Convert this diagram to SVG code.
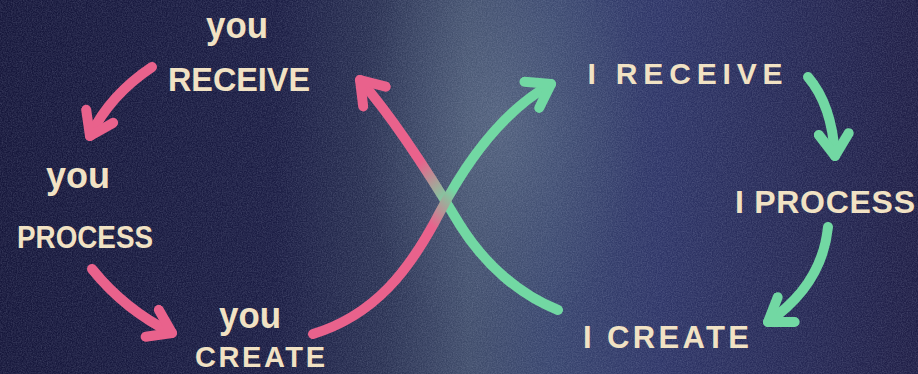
<svg xmlns="http://www.w3.org/2000/svg" width="918" height="374" viewBox="0 0 918 374">
  <defs>
    <linearGradient id="bg" x1="0" y1="0" x2="1" y2="0">
      <stop offset="0" stop-color="#16173b"/>
      <stop offset="0.3" stop-color="#1b1d44"/>
      <stop offset="0.42" stop-color="#2b3354"/>
      <stop offset="0.51" stop-color="#404d6b"/>
      <stop offset="0.6" stop-color="#38456e"/>
      <stop offset="0.72" stop-color="#2e3567"/>
      <stop offset="1" stop-color="#1f1e46"/>
    </linearGradient>
    <radialGradient id="glow" cx="500" cy="120" r="190" gradientUnits="userSpaceOnUse" gradientTransform="translate(500 120) scale(0.75 1.2) translate(-500 -120)">
      <stop offset="0" stop-color="#62728a" stop-opacity="0.6"/>
      <stop offset="0.6" stop-color="#55657f" stop-opacity="0.25"/>
      <stop offset="1" stop-color="#55657f" stop-opacity="0"/>
    </radialGradient>
    <filter id="chalk" x="0" y="0" width="100%" height="100%">
      <feTurbulence type="fractalNoise" baseFrequency="0.8" numOctaves="3" seed="4"/>
      <feColorMatrix type="matrix" values="0 0 0 0 0.7  0 0 0 0 0.76  0 0 0 0 0.95  0 0 0 0.7 -0.2"/>
    </filter>
    <linearGradient id="gA" gradientUnits="userSpaceOnUse" x1="313" y1="334" x2="553" y2="82">
      <stop offset="0" stop-color="#e9628c"/>
      <stop offset="0.46" stop-color="#e9628c"/>
      <stop offset="0.58" stop-color="#72d8a3"/>
      <stop offset="1" stop-color="#72d8a3"/>
    </linearGradient>
    <linearGradient id="gB" gradientUnits="userSpaceOnUse" x1="558" y1="310" x2="358" y2="78">
      <stop offset="0" stop-color="#72d8a3"/>
      <stop offset="0.5" stop-color="#72d8a3"/>
      <stop offset="0.66" stop-color="#e9628c"/>
      <stop offset="1" stop-color="#e9628c"/>
    </linearGradient>
    <marker id="hp" markerUnits="userSpaceOnUse" viewBox="-30 -20 36 40" markerWidth="36" markerHeight="40" refX="0" refY="0" orient="auto">
      <path d="M-22,-15 L0,0 L-22,15" fill="none" stroke="#e9628c" stroke-width="10" stroke-linecap="round" stroke-linejoin="round"/>
    </marker>
    <marker id="hg" markerUnits="userSpaceOnUse" viewBox="-30 -20 36 40" markerWidth="36" markerHeight="40" refX="0" refY="0" orient="auto">
      <path d="M-22,-15 L0,0 L-22,15" fill="none" stroke="#72d8a3" stroke-width="10" stroke-linecap="round" stroke-linejoin="round"/>
    </marker>
  </defs>
  <style>
    .lbl { font-family: "Liberation Sans", Arial, sans-serif; font-weight: bold; fill: #f1e2c4; text-anchor: middle; }
    .conn { fill: none; stroke-width: 10; stroke-linecap: round; }
    .pink { stroke: #e9628c; }
    .green { stroke: #72d8a3; }
  </style>

  <rect width="918" height="374" fill="url(#bg)"/>
  <rect width="918" height="374" fill="url(#glow)"/>
  <rect width="918" height="374" filter="url(#chalk)" opacity="0.4"/>

  <g id="connectors">
    <path class="conn pink" d="M152,67 Q110,95 90,136" marker-end="url(#hp)"/>
    <path class="conn pink" d="M92,269 Q125,310 172,333" marker-end="url(#hp)"/>
    <path class="conn" stroke="url(#gB)" d="M558,310 C520,295 485,265 460,225 C430,175 395,120 360,80" marker-end="url(#hp)"/>
    <path class="conn" stroke="url(#gA)" d="M313,334 C375,315 410,270 440,212 C470,155 505,110 551,84" marker-end="url(#hg)"/>
    <path class="conn green" d="M808,77 Q832,105 835,156" marker-end="url(#hg)"/>
    <path class="conn green" d="M828,227 Q822,285 768,322" marker-end="url(#hg)"/>
  </g>

  <g id="you-receive">
    <text class="lbl" x="237" y="38" font-size="36" textLength="62" lengthAdjust="spacingAndGlyphs">you</text>
    <text class="lbl" x="239" y="91" font-size="33" textLength="142" lengthAdjust="spacingAndGlyphs">RECEIVE</text>
  </g>
  <g id="you-process">
    <text class="lbl" x="78" y="188" font-size="36" textLength="64" lengthAdjust="spacingAndGlyphs">you</text>
    <text class="lbl" x="85" y="248" font-size="32" textLength="136" lengthAdjust="spacingAndGlyphs">PROCESS</text>
  </g>
  <g id="you-create">
    <text class="lbl" x="250" y="328" font-size="36" textLength="62" lengthAdjust="spacingAndGlyphs">you</text>
    <text class="lbl" x="260" y="367" font-size="29" textLength="130" lengthAdjust="spacing">CREATE</text>
  </g>
  <g id="i-receive">
    <text class="lbl" x="685" y="84" font-size="30" textLength="195" lengthAdjust="spacing">I RECEIVE</text>
  </g>
  <g id="i-process">
    <text class="lbl" x="825" y="213" font-size="32" textLength="180" lengthAdjust="spacing">I PROCESS</text>
  </g>
  <g id="i-create">
    <text class="lbl" x="666" y="348" font-size="31" textLength="166" lengthAdjust="spacing">I CREATE</text>
  </g>
</svg>
